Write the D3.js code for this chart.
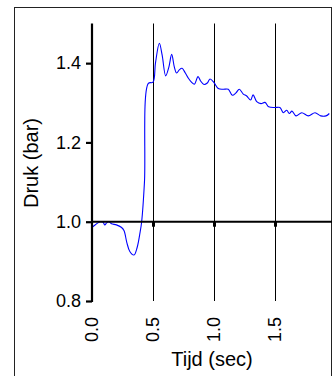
<!DOCTYPE html>
<html>
<head>
<meta charset="utf-8">
<script src="https://cdn.jsdelivr.net/npm/d3@7"></script>
<style>
  html, body { margin: 0; padding: 0; background: #fff; }
  svg { display: block; }
  text { font-family: "Liberation Sans", Arial, sans-serif; fill: #000; }
</style>
</head>
<body>
<svg id="chart" width="336" height="376"></svg>
<script>
// Data
const time = [0.00,0.03,0.066,0.09,0.105,0.12,0.137,0.16,0.20,0.24,0.262,0.285,0.31,0.344,0.37,0.395,0.407,0.43,0.462,0.50,0.52,0.552,0.575,0.604,0.63,0.653,0.675,0.694,0.715,0.738,0.765,0.79,0.815,0.839,0.869,0.89,0.918,0.945,0.967,1.00,1.035,1.075,1.117,1.15,1.18,1.207,1.24,1.268,1.30,1.32,1.35,1.385,1.418,1.448,1.50,1.54,1.568,1.596,1.617,1.639,1.672,1.719,1.773,1.828,1.875,1.918,1.945];
const pressure = [0.986,0.993,1.0,0.999,0.992,0.997,1.0,0.995,0.992,0.986,0.978,0.948,0.925,0.916,0.935,0.975,1.0,1.10,1.349,1.352,1.40,1.45,1.42,1.368,1.39,1.422,1.39,1.375,1.383,1.387,1.375,1.362,1.352,1.347,1.366,1.355,1.346,1.35,1.36,1.351,1.336,1.334,1.334,1.319,1.325,1.334,1.322,1.317,1.307,1.32,1.303,1.298,1.301,1.29,1.288,1.288,1.275,1.281,1.273,1.279,1.267,1.275,1.267,1.275,1.267,1.267,1.273];
const xTicks = [0.0, 0.5, 1.0, 1.5];
const yTicks = [0.8, 1.0, 1.2, 1.4];
const xTitle = "Tijd (sec)";
const yTitle = "Druk (bar)";

const svg = d3.select("#chart");

// outer frame
svg.append("rect")
  .attr("x", 14.5).attr("y", 7.5)
  .attr("width", 317).attr("height", 380)
  .attr("fill", "none").attr("stroke", "#222").attr("stroke-width", 1);

const x = d3.scaleLinear().domain([0, 1.967]).range([92, 332]);
const y = d3.scaleLinear().domain([0.8, 1.5]).range([301, 23.5]);

// vertical grid lines
svg.append("g").selectAll("line")
  .data(xTicks.filter(d => d > 0))
  .join("line")
  .attr("x1", d => Math.round(x(d)) + 0.5).attr("x2", d => Math.round(x(d)) + 0.5)
  .attr("y1", y(1.5)).attr("y2", y(0.8))
  .attr("stroke", "#000").attr("stroke-width", 1);

// data line
const pts = time.map((t, i) => [t, pressure[i]]);
svg.append("path")
  .datum(pts)
  .attr("fill", "none")
  .attr("stroke", "#0000ff")
  .attr("stroke-width", 1.1)
  .attr("d", d3.line().x(d => x(d[0])).y(d => y(d[1])).curve(d3.curveCatmullRom.alpha(0.5)));

// x axis line at 1.0
const y1 = y(1.0);
svg.append("line")
  .attr("x1", x(0)).attr("x2", 332)
  .attr("y1", y1).attr("y2", y1)
  .attr("stroke", "#000").attr("stroke-width", 2);

// x tick marks
svg.append("g").selectAll("rect")
  .data(xTicks.filter(d => d > 0))
  .join("rect")
  .attr("x", d => Math.round(x(d)) - 1)
  .attr("y", y1)
  .attr("width", 3).attr("height", 5)
  .attr("fill", "#000");

// y axis
const yAxis = d3.axisLeft(y).tickValues(yTicks).tickFormat(d3.format(".1f")).tickSize(6).tickPadding(5);
const gy = svg.append("g").attr("transform", `translate(${x(0)},0)`).call(yAxis);
gy.select(".domain").attr("stroke", "#000").attr("stroke-width", 2.2).attr("d", `M0,${y(1.5)}V${y(0.8)+1}`);
gy.selectAll(".tick line").attr("stroke", "#000").attr("stroke-width", 2.2);
gy.selectAll(".tick text").attr("font-size", 18).attr("font-family", "Liberation Sans, Arial, sans-serif").attr("fill", "#000");

// x tick labels (rotated)
svg.append("g").selectAll("text")
  .data(xTicks)
  .join("text")
  .attr("transform", d => `translate(${x(d)},317) rotate(-90)`)
  .attr("text-anchor", "end")
  .attr("dy", "0.35em")
  .attr("font-size", 18)
  .text(d => d3.format(".1f")(d));

// axis titles
svg.append("text")
  .attr("x", 212).attr("y", 366)
  .attr("text-anchor", "middle")
  .attr("font-size", 20)
  .text(xTitle);

svg.append("text")
  .attr("transform", "translate(38,163) rotate(-90)")
  .attr("text-anchor", "middle")
  .attr("font-size", 20)
  .text(yTitle);
</script>
</body>
</html>
